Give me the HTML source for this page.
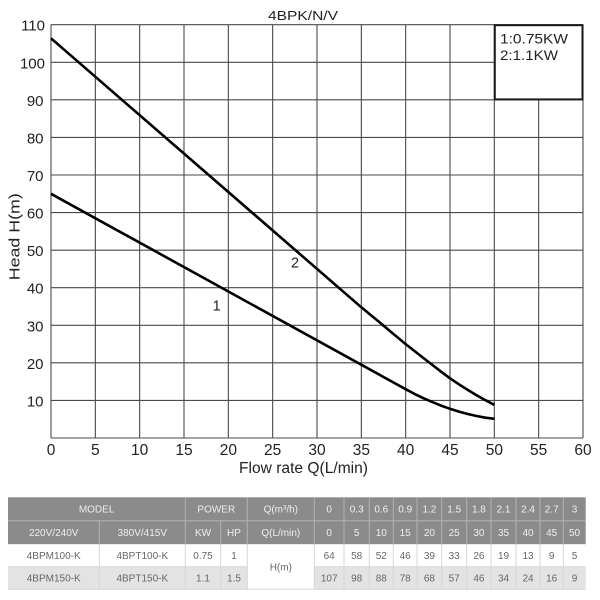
<!DOCTYPE html>
<html>
<head>
<meta charset="utf-8">
<style>
  html,body{margin:0;padding:0;background:#fff;}
  svg{display:block;}
  text{font-family:"Liberation Sans", Arial, sans-serif;}
</style>
</head>
<body>
<svg width="600" height="600" viewBox="0 0 600 600" xmlns="http://www.w3.org/2000/svg">
  <rect x="0" y="0" width="600" height="600" fill="#fff"/>

  <!-- title -->
  <text x="303" y="20" font-size="13" text-anchor="middle" fill="#222" textLength="70" lengthAdjust="spacingAndGlyphs">4BPK/N/V</text>

  <!-- grid -->
  <g stroke="#4a4a4a" stroke-width="1.1" fill="none">
    <line x1="51" y1="24.7" x2="51" y2="438"/>
    <line x1="95.33" y1="24.7" x2="95.33" y2="438"/>
    <line x1="139.67" y1="24.7" x2="139.67" y2="438"/>
    <line x1="184" y1="24.7" x2="184" y2="438"/>
    <line x1="228.33" y1="24.7" x2="228.33" y2="438"/>
    <line x1="272.67" y1="24.7" x2="272.67" y2="438"/>
    <line x1="317" y1="24.7" x2="317" y2="438"/>
    <line x1="361.33" y1="24.7" x2="361.33" y2="438"/>
    <line x1="405.67" y1="24.7" x2="405.67" y2="438"/>
    <line x1="450" y1="24.7" x2="450" y2="438"/>
    <line x1="494.33" y1="24.7" x2="494.33" y2="438"/>
    <line x1="538.67" y1="24.7" x2="538.67" y2="438"/>
    <line x1="583" y1="24.7" x2="583" y2="438"/>

    <line x1="51" y1="438" x2="583" y2="438"/>
    <line x1="51" y1="400.43" x2="583" y2="400.43"/>
    <line x1="51" y1="362.86" x2="583" y2="362.86"/>
    <line x1="51" y1="325.29" x2="583" y2="325.29"/>
    <line x1="51" y1="287.71" x2="583" y2="287.71"/>
    <line x1="51" y1="250.14" x2="583" y2="250.14"/>
    <line x1="51" y1="212.57" x2="583" y2="212.57"/>
    <line x1="51" y1="175" x2="583" y2="175"/>
    <line x1="51" y1="137.43" x2="583" y2="137.43"/>
    <line x1="51" y1="99.86" x2="583" y2="99.86"/>
    <line x1="51" y1="62.29" x2="583" y2="62.29"/>
    <line x1="51" y1="24.7" x2="583" y2="24.7"/>
  </g>

  <!-- legend box -->
  <rect x="494.8" y="25.2" width="87.7" height="74.2" fill="#fff" stroke="#1a1a1a" stroke-width="2"/>
  <text x="500" y="43.5" font-size="14" fill="#222" textLength="68" lengthAdjust="spacingAndGlyphs">1:0.75KW</text>
  <text x="500" y="60" font-size="14" fill="#222" textLength="58" lengthAdjust="spacingAndGlyphs">2:1.1KW</text>

  <!-- y tick labels -->
  <g font-size="15" fill="#222" text-anchor="end">
    <text x="45" y="30.7">110</text>
    <text x="45" y="68.3">100</text>
    <text x="43.5" y="105.9">90</text>
    <text x="43.5" y="143.4">80</text>
    <text x="43.5" y="181">70</text>
    <text x="43.5" y="218.6">60</text>
    <text x="43.5" y="256.1">50</text>
    <text x="43.5" y="293.7">40</text>
    <text x="43.5" y="331.3">30</text>
    <text x="43.5" y="368.9">20</text>
    <text x="43.5" y="406.4">10</text>
  </g>

  <!-- x tick labels -->
  <g font-size="15.5" fill="#222" text-anchor="middle">
    <text x="51" y="455">0</text>
    <text x="95.33" y="455">5</text>
    <text x="139.67" y="455">10</text>
    <text x="184" y="455">15</text>
    <text x="228.33" y="455">20</text>
    <text x="272.67" y="455">25</text>
    <text x="317" y="455">30</text>
    <text x="361.33" y="455">35</text>
    <text x="405.67" y="455">40</text>
    <text x="450" y="455">45</text>
    <text x="494.33" y="455">50</text>
    <text x="538.67" y="455">55</text>
    <text x="583" y="455">60</text>
  </g>

  <!-- axis titles -->
  <text x="303.5" y="473" font-size="15.5" fill="#222" text-anchor="middle" textLength="129" lengthAdjust="spacingAndGlyphs">Flow rate Q(L/min)</text>
  <text transform="translate(19.5,236.7) rotate(-90)" x="0" y="0" font-size="15" fill="#222" text-anchor="middle" textLength="87" lengthAdjust="spacingAndGlyphs">Head H(m)</text>

  <!-- curves -->
  <polyline fill="none" stroke="#000" stroke-width="2.6" stroke-linejoin="round" stroke-linecap="butt"
    points="51,38.3 361.33,307.3 370.2,314.6 379.1,321.9 387.9,329.4 396.8,336.7 405.67,344.1 414.5,351.0 423.4,358.0 432.3,364.9 441.1,371.7 450,378.3 458.9,384.3 467.7,389.9 476.6,395.2 485.5,400.2 494.33,404.9"/>
  <polyline fill="none" stroke="#000" stroke-width="2.6" stroke-linejoin="round" stroke-linecap="butt"
    points="51,193.8 405.67,389.2 414.5,393.9 423.4,398.2 432.3,402.1 441.1,405.6 450,408.8 458.9,411.6 467.7,414.0 476.6,416.0 485.5,417.7 494.33,418.8"/>

  <!-- curve labels -->
  <text x="295" y="267.3" font-size="14.5" fill="#222" text-anchor="middle">2</text>
  <text x="216.7" y="310.7" font-size="14.5" fill="#222" text-anchor="middle">1</text>

  <!-- ===== TABLE ===== -->
  <rect x="8" y="497.3" width="577.7" height="47" fill="#8b8b8b"/>
  <rect x="8" y="544.3" width="577.7" height="22.4" fill="#ffffff"/>
  <rect x="8" y="566.7" width="239.3" height="22.6" fill="#e3e3e3"/>
  <rect x="314.3" y="566.7" width="271.4" height="22.6" fill="#e3e3e3"/>

  <g stroke="#b3b3b3" stroke-width="1">
    <line x1="8" y1="520.7" x2="585.7" y2="520.7"/>
    <line x1="99.3" y1="520.7" x2="99.3" y2="544.3"/>
    <line x1="185.3" y1="497.3" x2="185.3" y2="544.3"/>
    <line x1="220.7" y1="520.7" x2="220.7" y2="544.3"/>
    <line x1="247.3" y1="497.3" x2="247.3" y2="544.3"/>
    <line x1="314.3" y1="497.3" x2="314.3" y2="544.3"/>
    <line x1="344" y1="497.3" x2="344" y2="544.3"/>
    <line x1="369.3" y1="497.3" x2="369.3" y2="544.3"/>
    <line x1="393.3" y1="497.3" x2="393.3" y2="544.3"/>
    <line x1="417" y1="497.3" x2="417" y2="544.3"/>
    <line x1="441.7" y1="497.3" x2="441.7" y2="544.3"/>
    <line x1="466.7" y1="497.3" x2="466.7" y2="544.3"/>
    <line x1="491" y1="497.3" x2="491" y2="544.3"/>
    <line x1="516" y1="497.3" x2="516" y2="544.3"/>
    <line x1="540" y1="497.3" x2="540" y2="544.3"/>
    <line x1="563.3" y1="497.3" x2="563.3" y2="544.3"/>
  </g>
  <g stroke="#d6d6d6" stroke-width="1">
    <line x1="8" y1="566.7" x2="247.3" y2="566.7"/>
    <line x1="314.3" y1="566.7" x2="585.7" y2="566.7"/>
    <line x1="8" y1="589.3" x2="585.7" y2="589.3"/>
    <line x1="99.3" y1="544.3" x2="99.3" y2="589.3"/>
    <line x1="185.3" y1="544.3" x2="185.3" y2="589.3"/>
    <line x1="220.7" y1="544.3" x2="220.7" y2="589.3"/>
    <line x1="247.3" y1="544.3" x2="247.3" y2="589.3"/>
    <line x1="314.3" y1="544.3" x2="314.3" y2="589.3"/>
    <line x1="344" y1="544.3" x2="344" y2="589.3"/>
    <line x1="369.3" y1="544.3" x2="369.3" y2="589.3"/>
    <line x1="393.3" y1="544.3" x2="393.3" y2="589.3"/>
    <line x1="417" y1="544.3" x2="417" y2="589.3"/>
    <line x1="441.7" y1="544.3" x2="441.7" y2="589.3"/>
    <line x1="466.7" y1="544.3" x2="466.7" y2="589.3"/>
    <line x1="491" y1="544.3" x2="491" y2="589.3"/>
    <line x1="516" y1="544.3" x2="516" y2="589.3"/>
    <line x1="540" y1="544.3" x2="540" y2="589.3"/>
    <line x1="563.3" y1="544.3" x2="563.3" y2="589.3"/>
  </g>

  <g font-size="10" fill="#eeeeee" text-anchor="middle">
    <text x="96.6" y="512.3">MODEL</text>
    <text x="216.3" y="512.3">POWER</text>
    <text x="280.8" y="512.3">Q(m³/h)</text>
    <text x="329.2" y="512.3">0</text>
    <text x="356.7" y="512.3">0.3</text>
    <text x="381.3" y="512.3">0.6</text>
    <text x="405.2" y="512.3">0.9</text>
    <text x="429.4" y="512.3">1.2</text>
    <text x="454.2" y="512.3">1.5</text>
    <text x="478.9" y="512.3">1.8</text>
    <text x="503.5" y="512.3">2.1</text>
    <text x="528" y="512.3">2.4</text>
    <text x="551.7" y="512.3">2.7</text>
    <text x="574.5" y="512.3">3</text>
  </g>
  <g font-size="10" fill="#eeeeee" text-anchor="middle">
    <text x="53.7" y="536">220V/240V</text>
    <text x="142.3" y="536">380V/415V</text>
    <text x="203" y="536">KW</text>
    <text x="234" y="536">HP</text>
    <text x="280.8" y="536">Q(L/min)</text>
    <text x="329.2" y="536">0</text>
    <text x="356.7" y="536">5</text>
    <text x="381.3" y="536">10</text>
    <text x="405.2" y="536">15</text>
    <text x="429.4" y="536">20</text>
    <text x="454.2" y="536">25</text>
    <text x="478.9" y="536">30</text>
    <text x="503.5" y="536">35</text>
    <text x="528" y="536">40</text>
    <text x="551.7" y="536">45</text>
    <text x="574.5" y="536">50</text>
  </g>
  <g font-size="10" fill="#666" text-anchor="middle">
    <text x="53.7" y="559">4BPM100-K</text>
    <text x="142.3" y="559">4BPT100-K</text>
    <text x="203" y="559">0.75</text>
    <text x="234" y="559">1</text>
    <text x="280.8" y="570.5">H(m)</text>
    <text x="329.2" y="559">64</text>
    <text x="356.7" y="559">58</text>
    <text x="381.3" y="559">52</text>
    <text x="405.2" y="559">46</text>
    <text x="429.4" y="559">39</text>
    <text x="454.2" y="559">33</text>
    <text x="478.9" y="559">26</text>
    <text x="503.5" y="559">19</text>
    <text x="528" y="559">13</text>
    <text x="551.7" y="559">9</text>
    <text x="574.5" y="559">5</text>
  </g>
  <g font-size="10" fill="#666" text-anchor="middle">
    <text x="53.7" y="581.5">4BPM150-K</text>
    <text x="142.3" y="581.5">4BPT150-K</text>
    <text x="203" y="581.5">1.1</text>
    <text x="234" y="581.5">1.5</text>
    <text x="329.2" y="581.5">107</text>
    <text x="356.7" y="581.5">98</text>
    <text x="381.3" y="581.5">88</text>
    <text x="405.2" y="581.5">78</text>
    <text x="429.4" y="581.5">68</text>
    <text x="454.2" y="581.5">57</text>
    <text x="478.9" y="581.5">46</text>
    <text x="503.5" y="581.5">34</text>
    <text x="528" y="581.5">24</text>
    <text x="551.7" y="581.5">16</text>
    <text x="574.5" y="581.5">9</text>
  </g>
</svg>
</body>
</html>
